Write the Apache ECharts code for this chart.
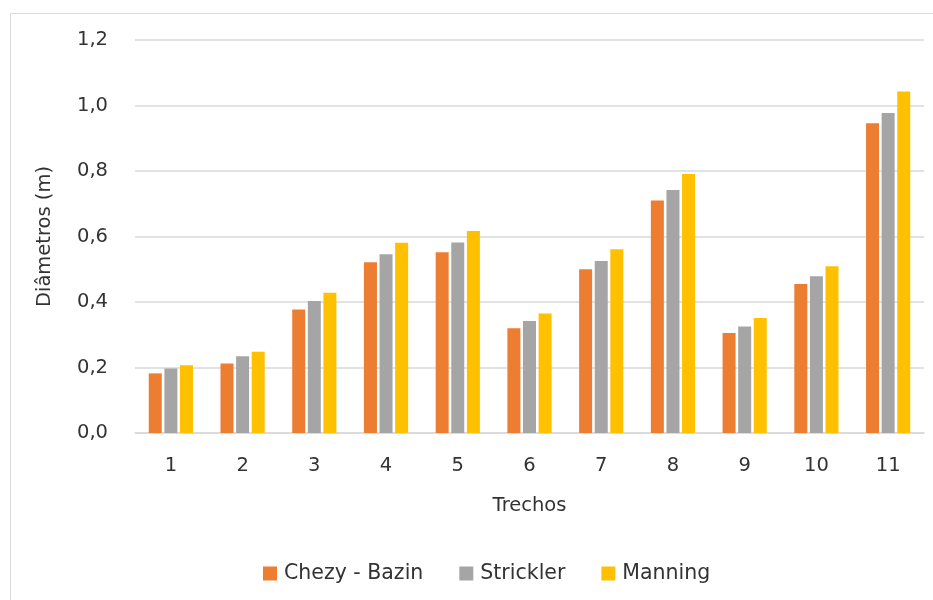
<!DOCTYPE html>
<html>
<head>
<meta charset="utf-8">
<script src="https://cdn.jsdelivr.net/npm/echarts@6/dist/echarts.min.js"></script>
<style>
  html, body { margin: 0; padding: 0; background: #fff; }
  #chart { width: 933px; height: 600px; }
</style>
</head>
<body>
<div id="chart"></div>
<script>
// Trechos (stretches) along the network
const categories = ['1', '2', '3', '4', '5', '6', '7', '8', '9', '10', '11'];

// Diameters (m) per method
const chezyBazin = [0.182, 0.212, 0.377, 0.521, 0.552, 0.320, 0.500, 0.710, 0.305, 0.455, 0.946];
const strickler  = [0.197, 0.234, 0.403, 0.546, 0.582, 0.342, 0.525, 0.742, 0.325, 0.479, 0.977];
const manning    = [0.207, 0.248, 0.428, 0.581, 0.617, 0.365, 0.561, 0.791, 0.351, 0.509, 1.043];

const seriesNames = ['Chezy - Bazin', 'Strickler', 'Manning'];
const seriesColors = ['#ED7D31', '#A5A5A5', '#FFC000'];

const FONT = '"DejaVu Sans", sans-serif';
const FS = 19.5;
const TEXT = '#333333';

const chart = echarts.init(document.getElementById('chart'), null, { renderer: 'canvas' });

function barSeries(name, data, color) {
  return {
    name: name,
    type: 'bar',
    data: data,
    barWidth: 13,
    barGap: '20%',
    itemStyle: { color: color },
    emphasis: { disabled: true }
  };
}

chart.setOption({
  animation: false,
  textStyle: { fontFamily: FONT },
  graphic: [{
    type: 'rect',
    shape: { x: 10.5, y: 13.5, width: 960, height: 620 },
    style: { fill: 'none', stroke: '#D9D9D9', lineWidth: 1 },
    silent: true
  }],
  grid: { left: 135, right: 9, top: 40, bottom: 167 },
  legend: {
    bottom: 11,
    left: 258,
    itemWidth: 14,
    itemHeight: 14,
    itemGap: 36,
    icon: 'rect',
    textStyle: { fontFamily: FONT, fontSize: 20.5, color: TEXT, padding: [0, 0, 0, 2] },
    data: seriesNames
  },
  xAxis: {
    type: 'category',
    data: categories,
    name: 'Trechos',
    nameLocation: 'middle',
    nameGap: 63,
    nameTextStyle: { fontFamily: FONT, fontSize: FS, color: TEXT },
    axisLine: { lineStyle: { color: '#D9D9D9', width: 1.5 } },
    axisTick: { show: false },
    axisLabel: { fontFamily: FONT, fontSize: FS, color: TEXT, margin: 23 }
  },
  yAxis: {
    type: 'value',
    min: 0,
    max: 1.2,
    interval: 0.2,
    name: 'Diâmetros (m)',
    nameLocation: 'middle',
    nameGap: 80,
    nameTextStyle: { fontFamily: FONT, fontSize: FS, color: TEXT },
    axisLine: { show: false },
    axisTick: { show: false },
    splitLine: { lineStyle: { color: '#D9D9D9', width: 1.5 } },
    axisLabel: {
      fontFamily: FONT, fontSize: FS, color: TEXT, margin: 27,
      formatter: v => v.toFixed(1).replace('.', ',')
    }
  },
  series: [
    barSeries(seriesNames[0], chezyBazin, seriesColors[0]),
    barSeries(seriesNames[1], strickler, seriesColors[1]),
    barSeries(seriesNames[2], manning, seriesColors[2])
  ]
});
</script>
</body>
</html>
